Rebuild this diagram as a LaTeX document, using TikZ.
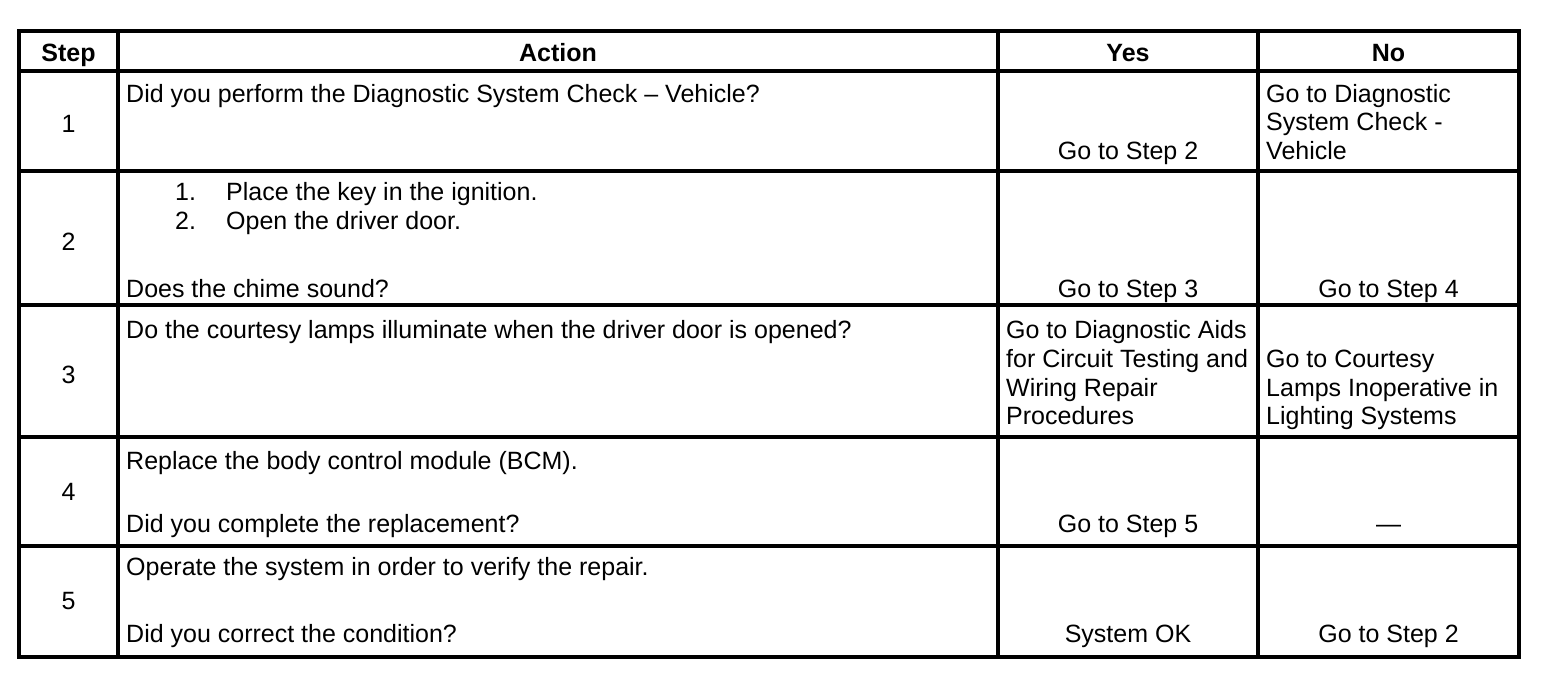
\documentclass[tikz,border=0pt]{standalone}
\usepackage{fontspec}
\setmainfont{Liberation Sans}
\begin{document}
\begin{tikzpicture}[x=1pt,y=-1pt,
  txt/.style={inner sep=0pt, font=\fontsize{25}{28.75}\selectfont},
  lt/.style={txt, anchor=base west},
  ct/.style={txt, anchor=base},
  hd/.style={txt, anchor=base, font=\fontsize{25}{28.75}\selectfont\bfseries},
  rule/.style={line width=3.5pt, line cap=rect}]
\useasboundingbox (0,0) rectangle (1568,672);
\fill[white] (0,0) rectangle (1568,672);
% grid
\draw[rule] (19,31) rectangle (1519,657);
\draw[rule] (19,71) -- (1519,71);
\draw[rule] (19,171) -- (1519,171);
\draw[rule] (19,305) -- (1519,305);
\draw[rule] (19,437) -- (1519,437);
\draw[rule] (19,546) -- (1519,546);
\draw[rule] (118,31) -- (118,657);
\draw[rule] (998,31) -- (998,657);
\draw[rule] (1258,31) -- (1258,657);
% header
\node[hd] (hstep) at (68.5,61) {Step};
\node[hd] (hact) at (558,61) {Action};
\node[hd] (hyes) at (1128,61) {Yes};
\node[hd] (hno) at (1388.5,61) {No};
% row 1
\node[ct] (s1) at (68.5,132) {1};
\node[lt] (a1) at (126,102) {Did you perform the Diagnostic System Check – Vehicle?};
\node[ct] (y1) at (1128,159) {Go to Step 2};
\node[lt] (n1a) at (1266,102) {Go to Diagnostic};
\node[lt] (n1b) at (1266,130) {System Check -};
\node[lt] (n1c) at (1266,159) {Vehicle};
% row 2
\node[ct] (s2) at (68.5,250) {2};
\node[lt] (a2n1) at (175,200) {1.};
\node[lt] (a2t1) at (226,200) {Place the key in the ignition.};
\node[lt] (a2n2) at (175,229) {2.};
\node[lt] (a2t2) at (226,229) {Open the driver door.};
\node[lt] (a2q) at (126,297) {Does the chime sound?};
\node[ct] (y2) at (1128,297) {Go to Step 3};
\node[ct] (n2) at (1388.5,297) {Go to Step 4};
% row 3
\node[ct] (s3) at (68.5,383) {3};
\node[lt] (a3) at (126,338) {Do the courtesy lamps illuminate when the driver door is opened?};
\node[lt] (y3a) at (1006,338) {Go to Diagnostic Aids};
\node[lt] (y3b) at (1006,367) {for Circuit Testing and};
\node[lt] (y3c) at (1006,396) {Wiring Repair};
\node[lt] (y3d) at (1006,424) {Procedures};
\node[lt] (n3a) at (1266,367) {Go to Courtesy};
\node[lt] (n3b) at (1266,396) {Lamps Inoperative in};
\node[lt] (n3c) at (1266,424) {Lighting Systems};
% row 4
\node[ct] (s4) at (68.5,500) {4};
\node[lt] (a4a) at (126,469) {Replace the body control module (BCM).};
\node[lt] (a4b) at (126,532) {Did you complete the replacement?};
\node[ct] (y4) at (1128,532) {Go to Step 5};
\node[ct] (n4) at (1388.5,532) {—};
% row 5
\node[ct] (s5) at (68.5,609) {5};
\node[lt] (a5a) at (126,575) {Operate the system in order to verify the repair.};
\node[lt] (a5b) at (126,642) {Did you correct the condition?};
\node[ct] (y5) at (1128,642) {System OK};
\node[ct] (n5) at (1388.5,642) {Go to Step 2};
\end{tikzpicture}
\end{document}
